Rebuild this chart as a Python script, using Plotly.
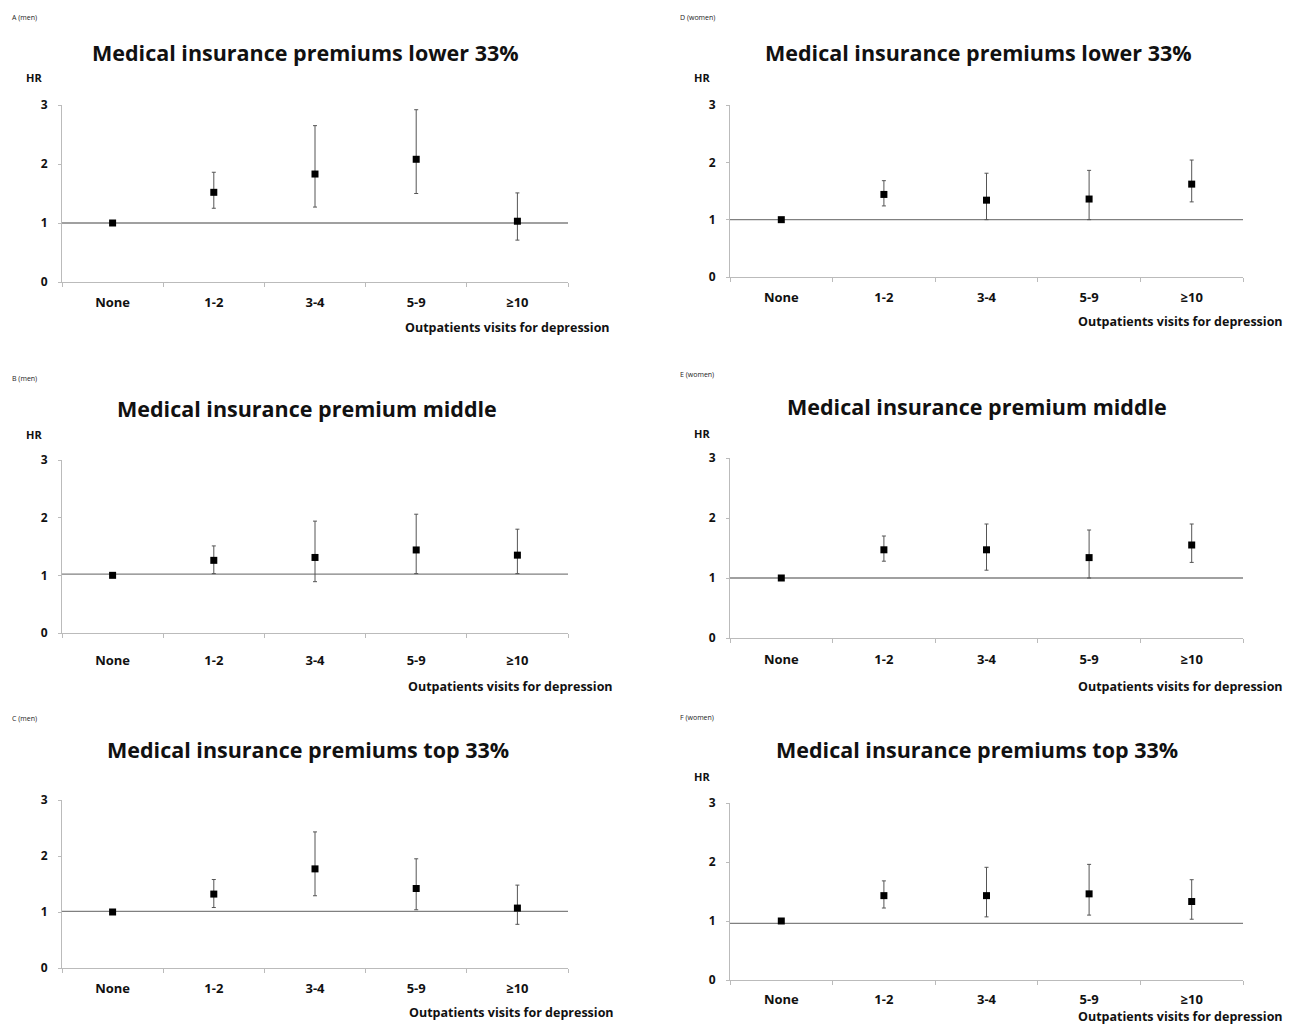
import plotly.graph_objects as go

# page has an 8px body margin; size the figure so that page fits the window
OFF = 8
W, H = 1293 - 2 * OFF, 1032 - 2 * OFF

categories = ["None", "1-2", "3-4", "5-9", "≥10"]

# Panel A (men, lower 33%)
hr_A = [1.00, 1.52, 1.83, 2.08, 1.03]
lo_A = [1.00, 1.25, 1.27, 1.50, 0.71]
hi_A = [1.00, 1.86, 2.65, 2.92, 1.51]
# Panel B (men, middle)
hr_B = [1.00, 1.26, 1.31, 1.44, 1.35]
lo_B = [1.00, 1.03, 0.89, 1.03, 1.03]
hi_B = [1.00, 1.51, 1.94, 2.06, 1.80]
# Panel C (men, top 33%)
hr_C = [1.00, 1.32, 1.77, 1.42, 1.07]
lo_C = [1.00, 1.08, 1.29, 1.04, 0.78]
hi_C = [1.00, 1.58, 2.43, 1.95, 1.48]
# Panel D (women, lower 33%)
hr_D = [1.00, 1.44, 1.34, 1.36, 1.62]
lo_D = [1.00, 1.24, 1.00, 1.00, 1.31]
hi_D = [1.00, 1.68, 1.81, 1.86, 2.04]
# Panel E (women, middle)
hr_E = [1.00, 1.47, 1.47, 1.34, 1.55]
lo_E = [1.00, 1.28, 1.13, 1.00, 1.26]
hi_E = [1.00, 1.70, 1.90, 1.80, 1.90]
# Panel F (women, top 33%)
hr_F = [1.00, 1.43, 1.43, 1.46, 1.33]
lo_F = [1.00, 1.22, 1.07, 1.10, 1.03]
hi_F = [1.00, 1.68, 1.91, 1.96, 1.70]

ref_levels = {"A": 1.0, "B": 1.02, "C": 1.01, "D": 1.0, "E": 1.0, "F": 0.96}

panel_labels = {"A": "A (men)", "B": "B (men)", "C": "C (men)",
                "D": "D (women)", "E": "E (women)", "F": "F (women)"}
panel_titles = {"A": "Medical insurance premiums lower 33%",
                "B": "Medical insurance premium middle",
                "C": "Medical insurance premiums top 33%",
                "D": "Medical insurance premiums lower 33%",
                "E": "Medical insurance premium middle",
                "F": "Medical insurance premiums top 33%"}
y_title = "HR"
x_title = "Outpatients visits for depression"
y_ticks = [0, 1, 2, 3]

data = {"A": (hr_A, lo_A, hi_A), "B": (hr_B, lo_B, hi_B), "C": (hr_C, lo_C, hi_C),
        "D": (hr_D, lo_D, hi_D), "E": (hr_E, lo_E, hi_E), "F": (hr_F, lo_F, hi_F)}

# layout in window pixels: x0, x1, ytop(HR=3), ybottom(HR=0)
boxes = {"A": (62, 568, 105, 282), "B": (62, 568, 460, 633), "C": (62, 568, 800, 968),
         "D": (730, 1243, 105, 277), "E": (730, 1243, 458, 638), "F": (730, 1243, 803, 980)}
# letter y, title (x, y), HR y (or None), x title (right x, y), x tick label standoff
label_pos = {"A": (18, 305, 52, 78, 612, 327, 8),
             "B": (378, 307, 409, 435, 615, 686, 15),
             "C": (718, 308, 749, None, 616, 1012, 8),
             "D": (18, 978, 52, 78, 1293, 321, 8),
             "E": (374, 977, 407, 434, 1291, 686, 9),
             "F": (717, 977, 749, 776, 1291, 1016, 7)}


def px(x):
    return (x - OFF) / W


def py(y):
    return 1 - (y - OFF) / H


fig = go.Figure()
FONT = "Open Sans"
annotations = []
shapes = []

for i, key in enumerate(["A", "B", "C", "D", "E", "F"]):
    n = i + 1
    xa = "x" if n == 1 else f"x{n}"
    ya = "y" if n == 1 else f"y{n}"
    hr, lo, hi = data[key]
    fig.add_trace(go.Scatter(
        x=categories, y=hr, mode="markers",
        marker=dict(symbol="square", size=7, color="black"),
        error_y=dict(type="data", symmetric=False,
                     array=[h - v for h, v in zip(hi, hr)],
                     arrayminus=[v - l for v, l in zip(hr, lo)],
                     color="#555555", thickness=1, width=2),
        xaxis=xa, yaxis=ya, showlegend=False, cliponaxis=False))
    x0, x1, yt, yb = boxes[key]
    ly, tx, ty, hy, xr, xy, stand = label_pos[key]
    axis_x = dict(domain=[px(x0), px(x1)], type="category", range=[-0.5, 4.5],
                  tickson="boundaries", ticks="outside", ticklen=4, tickcolor="#bbbbbb",
                  ticklabelstandoff=stand,
                  showline=True, linecolor="#bbbbbb", linewidth=1, showgrid=False,
                  zeroline=False, anchor=ya, fixedrange=True,
                  tickfont=dict(family=FONT, size=13, color="#111111", weight="bold"))
    axis_y = dict(domain=[py(yb), py(yt)], range=[0, 3], tickvals=y_ticks,
                  ticks="outside", ticklen=3, tickcolor="#bbbbbb",
                  ticklabelstandoff=8,
                  showline=True, linecolor="#bbbbbb", linewidth=1, showgrid=False,
                  zeroline=False, anchor=xa, fixedrange=True,
                  tickfont=dict(family=FONT, size=12, color="#111111", weight="bold"))
    fig.layout["xaxis" if n == 1 else f"xaxis{n}"] = axis_x
    fig.layout["yaxis" if n == 1 else f"yaxis{n}"] = axis_y
    shapes.append(dict(type="line", xref=f"{xa} domain", yref=ya, x0=0, x1=1,
                       y0=ref_levels[key], y1=ref_levels[key],
                       line=dict(color="#808080", width=1.3), layer="below"))
    annotations.append(dict(text=panel_labels[key], x=px(x0 - 52), y=py(ly), xref="paper", yref="paper",
                            xanchor="left", yanchor="middle", showarrow=False,
                            font=dict(family=FONT, size=7, color="#222222")))
    annotations.append(dict(text=f"<b>{panel_titles[key]}</b>", x=px(tx), y=py(ty), xref="paper", yref="paper",
                            xanchor="center", yanchor="middle", showarrow=False,
                            font=dict(family=FONT, size=21.5, color="#111111")))
    if hy is not None:
        annotations.append(dict(text=f"<b>{y_title}</b>", x=px(x0 - 38), y=py(hy), xref="paper", yref="paper",
                                xanchor="left", yanchor="middle", showarrow=False,
                                font=dict(family=FONT, size=11, color="#111111")))
    annotations.append(dict(text=f"<b>{x_title}</b>", x=min(px(xr), 1.0), y=py(xy), xref="paper", yref="paper",
                            xanchor="right", yanchor="middle", showarrow=False,
                            font=dict(family=FONT, size=12.5, color="#111111")))

fig.update_layout(width=W, height=H, margin=dict(l=0, r=0, t=0, b=0, autoexpand=False),
                  paper_bgcolor="white", plot_bgcolor="white",
                  annotations=annotations, shapes=shapes)

fig.write_html("out.html")
